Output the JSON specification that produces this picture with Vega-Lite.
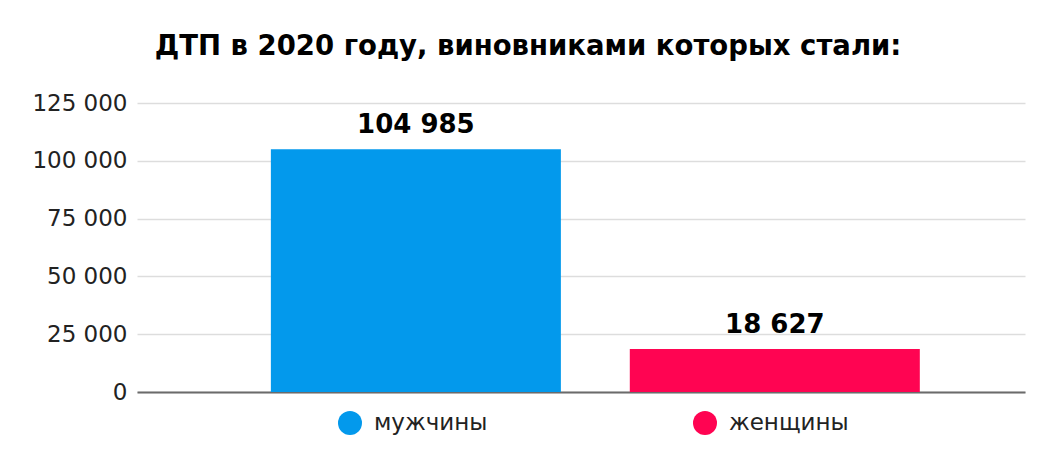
{
  "$schema": "https://vega.github.io/schema/vega-lite/v6.json",
  "width": 888,
  "height": 289,
  "autosize": {"type": "none"},
  "padding": {"left": 137, "top": 103, "right": 29, "bottom": 78},
  "background": "white",
  "config": {
    "font": "DejaVu Sans",
    "view": {"stroke": null},
    "locale": {
      "number": {"decimal": ",", "thousands": " ", "grouping": [3], "currency": ["", ""]}
    }
  },
  "title": {
    "text": "ДТП в 2020 году, виновниками которых стали:",
    "fontSize": 27.5,
    "fontWeight": "bold",
    "color": "#000000",
    "anchor": "middle",
    "dx": -53,
    "offset": 32
  },
  "data": {
    "values": [
      {"gender": "мужчины", "count": 104985},
      {"gender": "женщины", "count": 18627}
    ]
  },
  "encoding": {
    "x": {
      "field": "gender",
      "type": "nominal",
      "sort": null,
      "scale": {"paddingInner": 0.192, "paddingOuter": 0.333, "align": 0.56},
      "axis": {"title": null, "labels": false, "ticks": false, "domainColor": "#6b6b6b", "domainWidth": 2}
    },
    "y": {
      "field": "count",
      "type": "quantitative",
      "scale": {"domain": [0, 125000]},
      "axis": {
        "title": null,
        "values": [0, 25000, 50000, 75000, 100000, 125000],
        "format": ",d",
        "domain": false,
        "ticks": false,
        "labelFontSize": 23,
        "labelColor": "#222222",
        "labelPadding": 10,
        "gridColor": "#dddddd",
        "gridWidth": 1.5
      }
    }
  },
  "layer": [
    {
      "mark": {"type": "bar"},
      "encoding": {
        "color": {
          "field": "gender",
          "type": "nominal",
          "sort": null,
          "scale": {"domain": ["мужчины", "женщины"], "range": ["#0399EC", "#FF0452"]},
          "legend": {
            "title": null,
            "orient": "none",
            "legendX": 201,
            "legendY": 308,
            "direction": "horizontal",
            "padding": 0,
            "symbolType": "circle",
            "symbolSize": 576,
            "symbolStrokeWidth": 0,
            "labelFontSize": 23,
            "labelColor": "#222222",
            "labelOffset": 12,
            "columnPadding": 205
          }
        }
      }
    },
    {
      "mark": {"type": "text", "baseline": "alphabetic", "dy": -16, "fontSize": 26, "fontWeight": "bold", "color": "#000000"},
      "encoding": {
        "text": {"field": "count", "type": "quantitative", "format": ",d"}
      }
    }
  ]
}
